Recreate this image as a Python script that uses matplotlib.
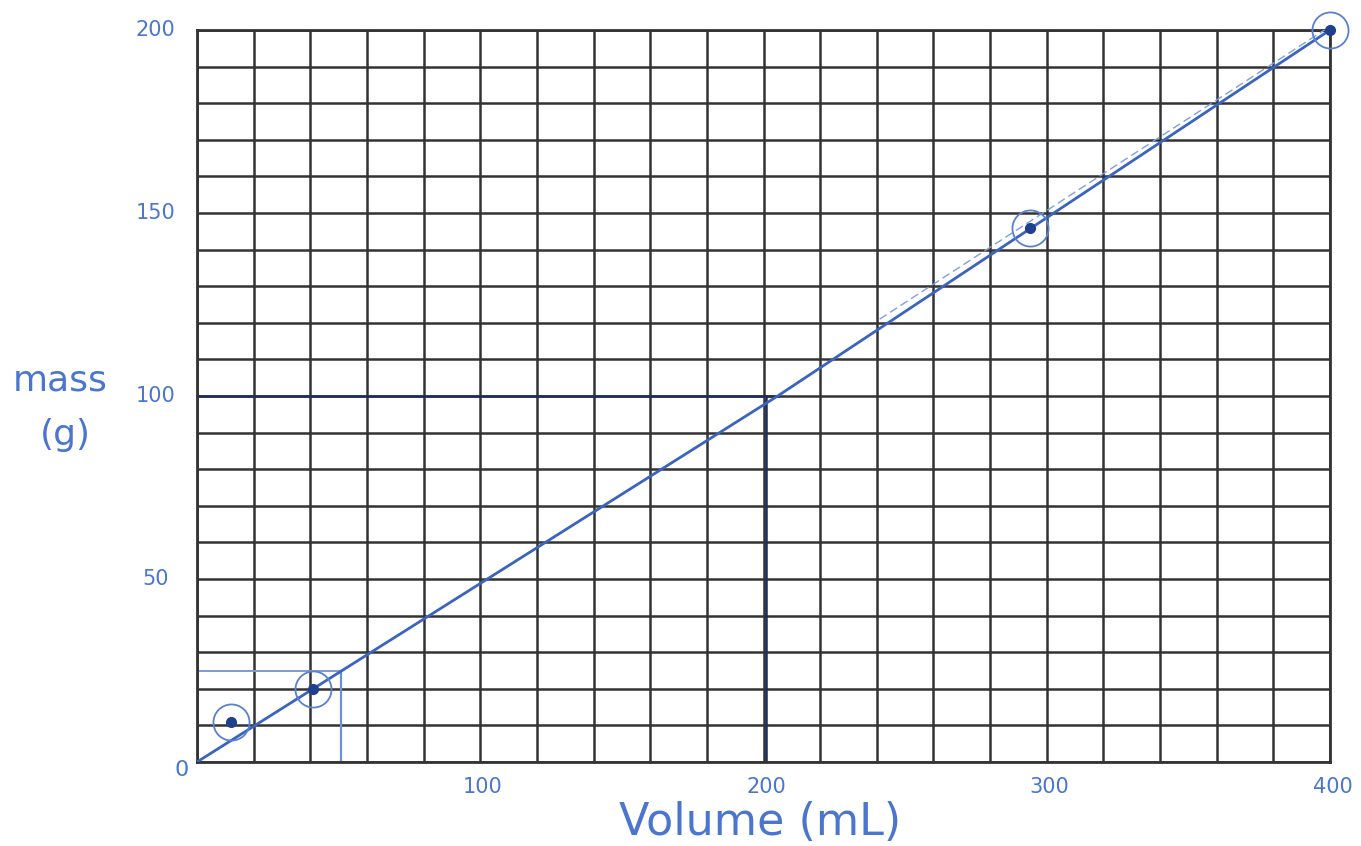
import matplotlib
matplotlib.use("Agg")
import matplotlib.pyplot as plt
import numpy as np

# measured points (volume mL, mass g)
vol = [12, 41, 294, 400]
mass = [11, 20, 146, 200]

# hand-drawn best-fit line, and the faint second stroke near the top
fit_x = [0, 205, 400]
fit_y = [0, 100, 200]
fit2_x = [241, 400]
fit2_y = [121, 201]

# read-off construction lines
read_hi = (201, 100)     # dark, at 200 mL
read_lo = (51, 25)       # light, at ~50 mL

xticks = [100, 200, 300, 400]
yticks = [50, 100, 150, 200]

INK = "#4a76cf"
NAVY = "#1d2c5e"
GRID = "#333333"

fig = plt.figure(figsize=(13.61, 8.46), dpi=100)
ax = fig.add_axes([197 / 1361, 1 - 762 / 846, (1330 - 197) / 1361, (762 - 30) / 846])
ax.set_xlim(0, 400)
ax.set_ylim(0, 200)

# grid paper: 20 columns x 20 rows
for gx in np.arange(0, 401, 20):
    ax.axvline(gx, color=GRID, lw=1.8, zorder=1)
for gy in np.arange(0, 201, 10):
    ax.axhline(gy, color=GRID, lw=1.8, zorder=1)
for s in ax.spines.values():
    s.set_color(GRID)
    s.set_linewidth(2.0)
ax.set_xticks([]); ax.set_yticks([])

# construction lines
ax.plot([0, read_hi[0] + 4], [read_hi[1], read_hi[1]], color=NAVY, lw=1.8, zorder=2)
ax.plot([read_hi[0], read_hi[0]], [0, read_hi[1]], color=NAVY, lw=1.8, zorder=2)
ax.plot([0, read_lo[0]], [read_lo[1], read_lo[1]], color="#7c9bdc", lw=1.4, zorder=2)
ax.plot([read_lo[0], read_lo[0]], [0, read_lo[1]], color="#6d8fd6", lw=1.6, zorder=2)

# best-fit lines
ax.plot(fit_x, fit_y, color="#3a64c0", lw=2.0, zorder=3)
ax.plot(fit2_x, fit2_y, color="#7f9fe0", lw=1.0, ls=(0, (6, 3)), zorder=3)

# points, circled
ax.plot(vol, mass, "o", color="#1f3f8f", ms=7, zorder=4, clip_on=False)
ax.plot(vol, mass, "o", mfc="none", mec="#5a80d0", mew=1.3, ms=26, zorder=4,
        clip_on=False)

# handwritten-style tick numbers
for t in xticks:
    ax.annotate(str(t), (t, 0), xytext=(2, -18), textcoords="offset points",
                ha="center", va="center", color=INK, fontsize=15,
                annotation_clip=False)
for t in yticks:
    ax.annotate(str(t), (0, t), xytext=(-30, 0), textcoords="offset points",
                ha="center", va="center", color=INK, fontsize=15,
                annotation_clip=False)
ax.annotate("0", (0, 0), xytext=(-11, -6), textcoords="offset points",
            ha="center", va="center", color=INK, fontsize=16,
            annotation_clip=False)

fig.text(60 / 1361, 1 - 380 / 846, "mass", color=INK, fontsize=26,
         ha="center", va="center")
fig.text(65 / 1361, 1 - 435 / 846, "(g)", color=INK, fontsize=26,
         ha="center", va="center")
fig.text(760 / 1361, 1 - 822 / 846, "Volume (mL)", color=INK, fontsize=32,
         ha="center", va="center")

fig.savefig("out.png", dpi=100, facecolor="white")
